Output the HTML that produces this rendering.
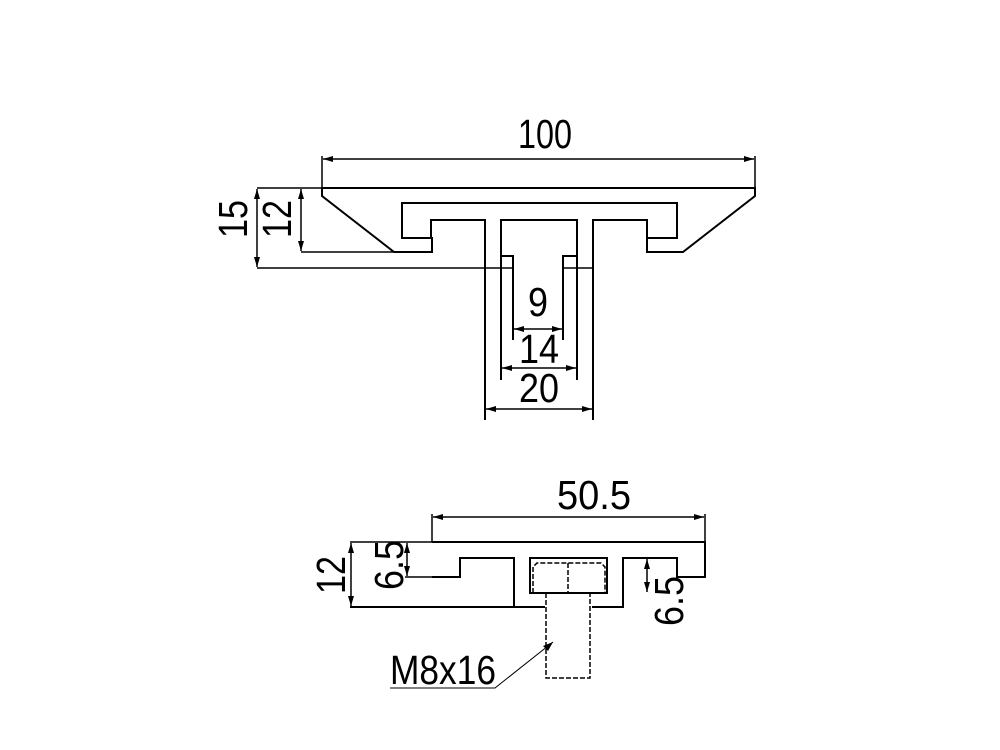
<!DOCTYPE html>
<html><head><meta charset="utf-8"><style>
html,body{margin:0;padding:0;background:#fff;}
svg{display:block;}
text{font-family:"Liberation Sans Narrow","Liberation Sans",sans-serif;font-size:41px;fill:#000;}
</style></head><body>
<svg width="1000" height="750" viewBox="0 0 1000 750" xmlns="http://www.w3.org/2000/svg">
<defs>
<marker id="a" viewBox="0 0 10 6" refX="10" refY="3" markerWidth="10" markerHeight="6" markerUnits="userSpaceOnUse" orient="auto-start-reverse"><path d="M0,0 L10,3 L0,6 Z" fill="#000"/></marker>
</defs>
<g fill="none" stroke="#000" stroke-width="2">
<!-- top profile -->
<path d="M322,188 L755,188 L755,196 L683,252 L647,252 L647,238 L677,238 L677,203 L402,203 L402,238 L432,238 L432,252 L394,252 L322,196 Z"/>
<path d="M431,238 L431,220 L485,220 L485,420"/>
<path d="M647,238 L647,220 L593,220 L593,420"/>
<path d="M501,380 L501,220 L577,220 L577,380"/>
<path d="M501,256 L513,256 L513,340"/>
<path d="M577,256 L563,256 L563,340"/>
</g>
<g fill="none" stroke="#000" stroke-width="1.5">
<line x1="257" y1="188" x2="322" y2="188"/>
<line x1="257" y1="268" x2="513" y2="268"/>
<line x1="563" y1="268" x2="593" y2="268"/>
<line x1="301" y1="252" x2="394" y2="252"/>
<line x1="322" y1="188" x2="322" y2="156"/>
<line x1="755" y1="188" x2="755" y2="156"/>
<line x1="323" y1="159" x2="754" y2="159" marker-start="url(#a)" marker-end="url(#a)"/>
<line x1="257" y1="189" x2="257" y2="267" marker-start="url(#a)" marker-end="url(#a)"/>
<line x1="301" y1="189" x2="301" y2="251" marker-start="url(#a)" marker-end="url(#a)"/>
<line x1="514" y1="329" x2="562" y2="329" marker-start="url(#a)" marker-end="url(#a)"/>
<line x1="502" y1="368" x2="576" y2="368" marker-start="url(#a)" marker-end="url(#a)"/>
<line x1="486" y1="409" x2="592" y2="409" marker-start="url(#a)" marker-end="url(#a)"/>
</g>
<text x="518" y="148" textLength="54" lengthAdjust="spacingAndGlyphs">100</text>
<text transform="translate(247,238) rotate(-90)" textLength="38" lengthAdjust="spacingAndGlyphs">15</text>
<text transform="translate(291,238) rotate(-90)" textLength="38" lengthAdjust="spacingAndGlyphs">12</text>
<text x="528" y="316" textLength="20" lengthAdjust="spacingAndGlyphs">9</text>
<text x="519" y="363" textLength="40" lengthAdjust="spacingAndGlyphs">14</text>
<text x="519" y="402" textLength="40" lengthAdjust="spacingAndGlyphs">20</text>

<!-- bottom profile -->
<g fill="none" stroke="#000" stroke-width="2">
<path d="M432,542 L705,542 L705,577 L677,577 L677,558 L623,558 L623,607 L592,607 M545,607 L350,607 M432,577 L460,577 L460,558 L514,558 L514,607"/>
<rect x="530" y="558" width="77" height="35"/>
</g>
<g fill="none" stroke="#000" stroke-width="1.5">
<line x1="350" y1="542" x2="432" y2="542"/>
<line x1="405" y1="577" x2="432" y2="577"/>
<line x1="623" y1="558" x2="650" y2="558"/>
<line x1="432" y1="542" x2="432" y2="514"/>
<line x1="705" y1="542" x2="705" y2="514"/>
<line x1="433" y1="517" x2="704" y2="517" marker-start="url(#a)" marker-end="url(#a)"/>
<line x1="351" y1="543" x2="351" y2="606" marker-start="url(#a)" marker-end="url(#a)"/>
<line x1="407" y1="543" x2="407" y2="576" marker-start="url(#a)" marker-end="url(#a)"/>
<line x1="647" y1="559" x2="647" y2="592" marker-start="url(#a)" marker-end="url(#a)"/>
<polyline points="390,688 495,688 553,642" stroke-width="1"/>
<path d="M553,642 L543,646 L548,651 Z" fill="#000" stroke="none"/>
</g>
<g fill="none" stroke="#000" stroke-width="1.5" stroke-dasharray="5,2">
<path d="M533,593 L533,567 L537,563 L601,563 L605,567 L605,593"/>
<line x1="568" y1="563" x2="568" y2="593"/>
<path d="M546,593 L546,678 L590,678 L590,593"/>
</g>
<text x="557" y="509" textLength="74" lengthAdjust="spacingAndGlyphs">50.5</text>
<text transform="translate(345,594) rotate(-90)" textLength="38" lengthAdjust="spacingAndGlyphs">12</text>
<text transform="translate(403,590) rotate(-90)" textLength="50" lengthAdjust="spacingAndGlyphs">6.5</text>
<text transform="translate(683,626) rotate(-90)" textLength="50" lengthAdjust="spacingAndGlyphs">6.5</text>
<text x="390" y="684" textLength="106" lengthAdjust="spacingAndGlyphs">M8x16</text>
</svg>
</body></html>
